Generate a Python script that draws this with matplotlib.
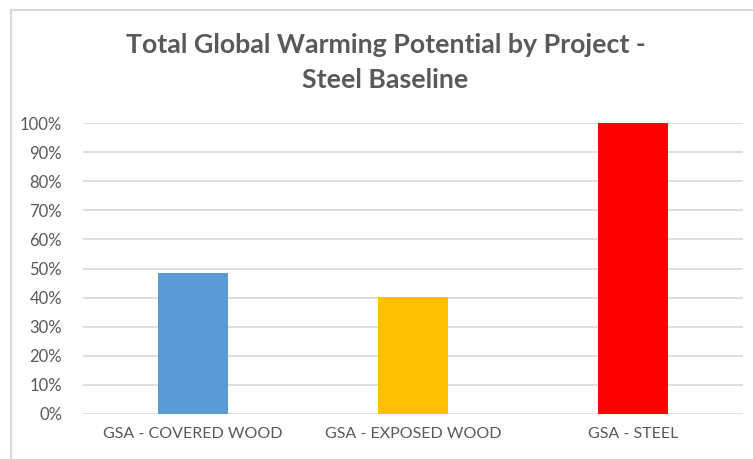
import matplotlib.pyplot as plt
import numpy as np
from matplotlib.lines import Line2D
from matplotlib.ticker import PercentFormatter

projects = ["GSA - COVERED WOOD", "GSA - EXPOSED WOOD", "GSA - STEEL"]
gwp_share = [0.485, 0.402, 1.0]
bar_colors = ["#5B9BD5", "#FFC000", "#FF0000"]
y_ticks = np.arange(0, 1.01, 0.1)

plt.rcParams["font.family"] = ["Lato", "DejaVu Sans"]
text_color = "#595959"

fig = plt.figure(figsize=(7.53, 4.59), dpi=100)
ax = fig.add_axes([83 / 753, 1 - 414 / 459, (743 - 83) / 753, (414 - 123) / 459])

x = np.arange(len(projects))
ax.bar(x, gwp_share, width=0.315, color=bar_colors, zorder=3)

ax.set_xlim(-0.5, len(projects) - 0.5)
ax.set_ylim(0, 1)
ax.set_yticks(y_ticks)
ax.yaxis.set_major_formatter(PercentFormatter(1.0, decimals=0))
ax.set_xticks(x)
ax.set_xticklabels(projects)
ax.tick_params(axis="x", length=0, labelsize=11.5, colors=text_color, pad=9)
ax.tick_params(axis="y", length=0, labelsize=12, colors=text_color, pad=15)
ax.grid(axis="y", color="#D9D9D9", linewidth=1.2, zorder=0)
for s in ax.spines.values():
    s.set_visible(False)

fig.text(0.512, 0.902, "Total Global Warming Potential by Project -",
         ha="center", va="center", fontsize=19.3, fontweight="bold", color=text_color)
fig.text(0.512, 0.826, "Steel Baseline",
         ha="center", va="center", fontsize=19.3, fontweight="bold", color=text_color)

# chart frame (left and top edges visible)
fig.add_artist(Line2D([11 / 753, 11 / 753], [0, 1 - 10 / 459], transform=fig.transFigure,
                      color="#D9D9D9", linewidth=1.5))
fig.add_artist(Line2D([11 / 753, 1], [1 - 10 / 459, 1 - 10 / 459], transform=fig.transFigure,
                      color="#D9D9D9", linewidth=1.5))

fig.savefig("out.png", dpi=100)
